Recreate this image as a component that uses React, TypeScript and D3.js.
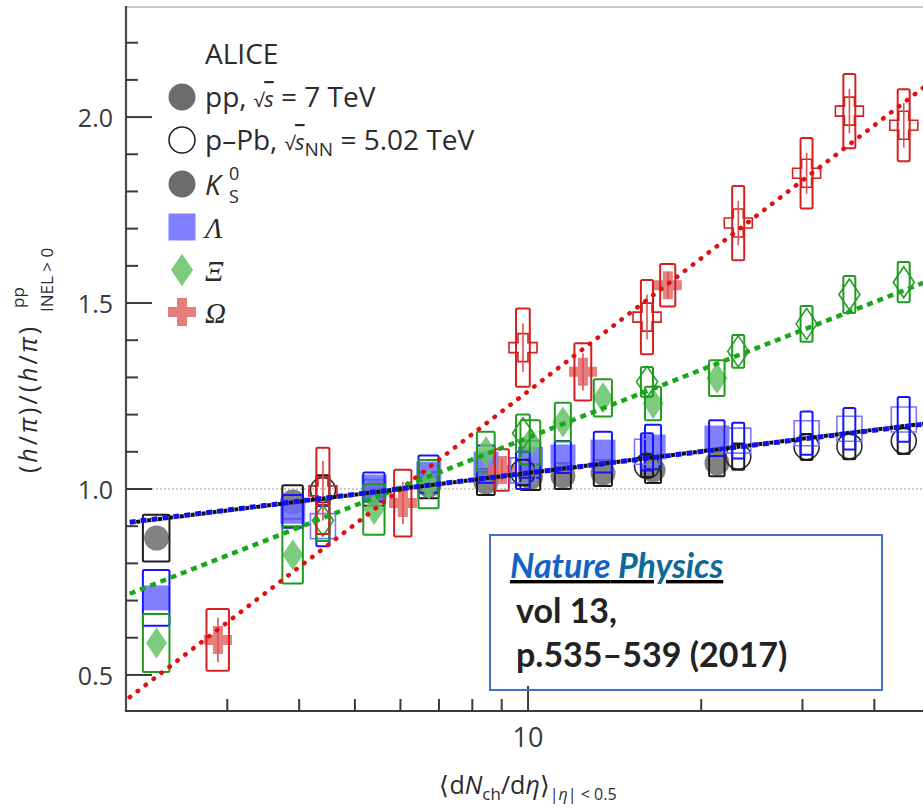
import React from 'react';
import * as d3 from 'd3';

// Charged-particle multiplicity classes, <dNch/deta> at |eta| < 0.5
const ppMult = [2.26, 3.9, 5.4, 6.72, 8.45, 10.1, 11.5, 13.5, 16.5, 21.3];
const ppMultErr = [0.12, 0.16, 0.23, 0.27, 0.3, 0.4, 0.37, 0.49, 0.53, 0.66];
const ppOmegaMult = [2.89, 6.06, 9.01, 12.46, 17.5];
const ppOmegaMultErr = [0.13, 0.21, 0.25, 0.42, 0.53];
const pPbMult = [4.4, 9.8, 16.1, 23.2, 30.5, 36.2, 45.0];
const pPbMultErr = [0.115, 0.27, 0.39, 0.56, 0.73, 0.87, 1.08];

// pp, sqrt(s) = 7 TeV: ratios (h/pi)/(h/pi)_INEL>0 with systematic and statistical errors
const ppK0S = [0.868, 0.965, 0.99, 1.01, 1.019, 1.032, 1.035, 1.043, 1.051, 1.07];
const ppK0SSys = [0.063, 0.045, 0.035, 0.035, 0.035, 0.035, 0.035, 0.035, 0.035, 0.036];
const ppLambda = [0.707, 0.94, 1.005, 1.04, 1.067, 1.08, 1.086, 1.099, 1.113, 1.137];
const ppLambdaSys = [0.075, 0.044, 0.039, 0.05, 0.05, 0.05, 0.043, 0.055, 0.06, 0.048];
const ppXi = [0.586, 0.823, 0.945, 1.013, 1.1, 1.125, 1.18, 1.245, 1.23, 1.298];
const ppXiSys = [0.078, 0.077, 0.068, 0.065, 0.054, 0.06, 0.052, 0.05, 0.045, 0.048];
const ppOmega = [0.594, 0.962, 1.051, 1.315, 1.548];
const ppOmegaSys = [0.083, 0.09, 0.056, 0.077, 0.057];
const ppOmegaStat = [0.06, 0.057, 0.03, 0.05, 0.035];

// p-Pb, sqrt(sNN) = 5.02 TeV
const pPbK0S = [0.997, 1.045, 1.062, 1.087, 1.113, 1.115, 1.129];
const pPbK0SSys = [0.04, 0.035, 0.03, 0.035, 0.035, 0.035, 0.035];
const pPbLambda = [0.9, 1.05, 1.1, 1.13, 1.15, 1.162, 1.187];
const pPbLambdaSys = [0.054, 0.05, 0.05, 0.048, 0.058, 0.056, 0.06];
const pPbXi = [0.915, 1.15, 1.288, 1.37, 1.444, 1.523, 1.556];
const pPbXiSys = [0.055, 0.05, 0.04, 0.044, 0.048, 0.05, 0.054];
const pPbOmega = [0.995, 1.38, 1.462, 1.715, 1.849, 2.016, 1.978];
const pPbOmegaSys = [0.116, 0.105, 0.1, 0.1, 0.095, 0.1, 0.097];
const pPbOmegaStat = [0.08, 0.065, 0.06, 0.06, 0.055, 0.06, 0.06];

// Fits of the form a + b*log10(dNch/deta)
const fitK0S = { a: 0.85, b: 0.193 };
const fitLambda = { a: 0.852, b: 0.191 };
const fitXi = { a: 0.532, b: 0.606 };
const fitOmega = { a: 0.0747, b: 1.188 };

const W = 923;
const H = 810;
const X0 = 126;
const Y0 = 711;
const YTOP = 7;

const xScale = d3.scaleLog().domain([2, 48.6]).range([X0, W]);
const yScale = d3.scaleLinear().domain([0.403, 2.296]).range([Y0, YTOP]);

type Pt = { x: number; xe: number; y: number; sys: number; stat: number };
const zip = (xs: number[], xes: number[], ys: number[], sys: number[], stat?: number[]): Pt[] =>
  xs.map((x, i) => ({ x, xe: xes[i], y: ys[i], sys: sys[i], stat: stat ? stat[i] : 0 }));

const shapes: Record<string, string> = {
  circle: 'M12.5,0A12.5,12.5 0 1,1 -12.5,0A12.5,12.5 0 1,1 12.5,0Z',
  square: 'M-12.5,-12.5H12.5V12.5H-12.5Z',
  diamond: 'M0,-15.5L10.5,0L0,15.5L-10.5,0Z',
  cross: 'M-5,-14H5V-5H14V5H5V14H-5V5H-14V-5H-5Z',
};

const species = [
  { shape: 'circle', fill: '#6c6c6c', box: '#1c1c1c', open: '#2a2a2a', stat: '#555' },
  { shape: 'square', fill: '#6a6aff', box: '#1414ff', open: '#7878ff', stat: '#3030ff' },
  { shape: 'diamond', fill: '#66c266', box: '#1f9c1f', open: '#23a023', stat: '#3a9a3a' },
  { shape: 'cross', fill: '#e26a6a', box: '#d42020', open: '#d42020', stat: '#e05050' },
];

const ppSets = [
  zip(ppMult, ppMultErr, ppK0S, ppK0SSys),
  zip(ppMult, ppMultErr, ppLambda, ppLambdaSys),
  zip(ppMult, ppMultErr, ppXi, ppXiSys),
  zip(ppOmegaMult, ppOmegaMultErr, ppOmega, ppOmegaSys, ppOmegaStat),
];
const pPbSets = [
  zip(pPbMult, pPbMultErr, pPbK0S, pPbK0SSys),
  zip(pPbMult, pPbMultErr, pPbLambda, pPbLambdaSys),
  zip(pPbMult, pPbMultErr, pPbXi, pPbXiSys),
  zip(pPbMult, pPbMultErr, pPbOmega, pPbOmegaSys, pPbOmegaStat),
];

const fitPath = (f: { a: number; b: number }) =>
  d3
    .line<number>()
    .x((d) => xScale(d))
    .y((d) => yScale(f.a + f.b * Math.log10(d)))([2.03, 48.6]) as string;

const TXT = '#2b2b2b';
const SANS = "'Open Sans', 'Noto Sans', sans-serif";
const SERIF = "'Liberation Serif', 'DejaVu Serif', serif";
const BOXFONT = "Lato, 'Open Sans', sans-serif";

function Points({ data, sp, filled }: { data: Pt[]; sp: (typeof species)[number]; filled: boolean }) {
  return (
    <g>
      {data.map((p, i) => {
        const cx = xScale(p.x);
        const cy = yScale(p.y);
        const bx0 = xScale(p.x - p.xe);
        const bx1 = xScale(p.x + p.xe);
        const by0 = yScale(p.y + p.sys);
        const by1 = yScale(p.y - p.sys);
        return (
          <g key={i}>
            {filled ? (
              <path d={shapes[sp.shape]} transform={`translate(${cx},${cy})`} fill={sp.fill} fillOpacity={0.85} />
            ) : (
              <path
                d={shapes[sp.shape]}
                transform={`translate(${cx},${cy})`}
                fill="none"
                stroke={sp.open}
                strokeWidth={1.6}
              />
            )}
            {p.stat > 0 && (
              <line x1={cx} x2={cx} y1={yScale(p.y + p.stat)} y2={yScale(p.y - p.stat)} stroke={sp.stat} strokeWidth={1.6} />
            )}
            <rect
              x={bx0}
              y={by0}
              width={bx1 - bx0}
              height={by1 - by0}
              rx={1.5}
              fill="none"
              stroke={sp.box}
              strokeWidth={2}
            />
          </g>
        );
      })}
    </g>
  );
}

export default function App() {
  const xTicks = xScale.ticks().filter((v) => v > 2.001);
  const yTicks = yScale.ticks(20);
  const isMajorY = (v: number) => Math.abs(v * 2 - Math.round(v * 2)) < 1e-6;
  const isMajorX = (v: number) => Math.abs(Math.log10(v) - Math.round(Math.log10(v))) < 1e-6;
  const fmt = d3.format('.1f');

  const legendRows = [97, 140, 184, 227, 270, 312];

  return (
    <svg
      width={W}
      height={H}
      viewBox={`0 0 ${W} ${H}`}
      style={{ position: 'absolute', left: 0, top: 0, display: 'block' }}
      fontFamily={SANS}
    >
      <rect width={W} height={H} fill="#fff" />

      {/* reference line at unity */}
      <line x1={152} x2={W} y1={yScale(1)} y2={yScale(1)} stroke="#9a9a9a" strokeWidth={1} strokeDasharray="2 2" />

      {/* data: pp filled, p-Pb open */}
      {species.map((sp, k) => (
        <Points key={'pp' + k} data={ppSets[k]} sp={sp} filled />
      ))}
      {species.map((sp, k) => (
        <Points key={'pPb' + k} data={pPbSets[k]} sp={sp} filled={false} />
      ))}

      {/* fits */}
      <path d={fitPath(fitOmega)} fill="none" stroke="#e01010" strokeWidth={4.5} strokeLinecap="round" strokeDasharray="0.5 9.5" />
      <path d={fitPath(fitXi)} fill="none" stroke="#16a816" strokeWidth={4.5} strokeDasharray="6 5" />
      <path d={fitPath(fitLambda)} fill="none" stroke="#1010e8" strokeWidth={5} strokeDasharray="6 5" />
      <path d={fitPath(fitK0S)} fill="none" stroke="#111" strokeWidth={4} strokeDasharray="4 7" strokeDashoffset={-6.5} />

      {/* frame and axes */}
      <line x1={X0} x2={W} y1={YTOP} y2={YTOP} stroke="#c8c8c8" strokeWidth={2} />
      <line x1={X0} x2={X0} y1={YTOP - 1} y2={Y0 + 1} stroke="#4a4a4a" strokeWidth={2.2} />
      <line x1={X0 - 1} x2={W} y1={Y0} y2={Y0} stroke="#3a3a3a" strokeWidth={2.2} />

      {yTicks.map((v) => (
        <line
          key={'yt' + v}
          x1={X0}
          x2={X0 + (isMajorY(v) ? 26 : 12)}
          y1={yScale(v)}
          y2={yScale(v)}
          stroke="#3a3a3a"
          strokeWidth={2}
        />
      ))}
      {yTicks.filter(isMajorY).map((v) => (
        <text key={'yl' + v} x={113} y={yScale(v) + 10} textAnchor="end" fontSize={25} fill="#3a3a3a">
          {fmt(v)}
        </text>
      ))}

      {xTicks.map((v) => (
        <line
          key={'xt' + v}
          x1={xScale(v)}
          x2={xScale(v)}
          y1={Y0}
          y2={Y0 - (isMajorX(v) ? 25 : 12)}
          stroke="#3a3a3a"
          strokeWidth={2}
        />
      ))}
      {xTicks.filter(isMajorX).map((v) => (
        <text key={'xl' + v} x={xScale(v)} y={747} textAnchor="middle" fontSize={27} fill="#3a3a3a">
          {d3.format('d')(v)}
        </text>
      ))}

      {/* axis titles */}
      <text x={528} y={794} textAnchor="middle" fontSize={25} fill={TXT}>
        ⟨d<tspan fontStyle="italic">N</tspan>
        <tspan fontSize={17} dy={6}>ch</tspan>
        <tspan dy={-6}>/d</tspan>
        <tspan fontStyle="italic">η</tspan>⟩
        <tspan fontSize={16} dy={6}>
          |<tspan fontStyle="italic">η</tspan>| &lt; 0.5
        </tspan>
      </text>

      <g transform="translate(37,473) rotate(-90)" fill={TXT}>
        <text x={0} y={0} fontSize={25} letterSpacing={3}>
          (<tspan fontStyle="italic">h</tspan>/<tspan fontStyle="italic">π</tspan>)/(<tspan fontStyle="italic">h</tspan>/
          <tspan fontStyle="italic">π</tspan>)
        </text>
        <text x={165} y={-13} fontSize={17}>
          pp
        </text>
        <text x={161} y={16} fontSize={17}>
          INEL &gt; 0
        </text>
      </g>

      {/* legend */}
      <g fill={TXT}>
        <text x={205} y={64} fontSize={28}>
          ALICE
        </text>
        <path d={shapes.circle} transform={`translate(182,${legendRows[0]}) scale(1.08)`} fill="#6c6c6c" />
        <text x={205} y={legendRows[0] + 10} fontSize={28}>
          pp, <tspan fontSize={19}>√</tspan>
          <tspan fontStyle="italic" fontSize={22} textDecoration="overline">s</tspan> = 7 TeV
        </text>
        <path
          d={shapes.circle}
          transform={`translate(182,${legendRows[1]}) scale(1.04)`}
          fill="none"
          stroke="#222"
          strokeWidth={1.5}
        />
        <text x={205} y={legendRows[1] + 10} fontSize={28}>
          p–Pb, <tspan fontSize={19}>√</tspan>
          <tspan fontStyle="italic" fontSize={22} textDecoration="overline">s</tspan>
          <tspan fontSize={19} dy={6}>NN</tspan>
          <tspan dy={-6}> = 5.02 TeV</tspan>
        </text>
        <path d={shapes.circle} transform={`translate(182,${legendRows[2]}) scale(1.08)`} fill="#6c6c6c" />
        <text x={205} y={legendRows[2] + 11} fontSize={28} fontStyle="italic">
          K
        </text>
        <text x={229} y={180} fontSize={18}>
          0
        </text>
        <text x={229} y={203} fontSize={18}>
          S
        </text>
        <path d={shapes.square} transform={`translate(182,${legendRows[3]}) scale(1.08)`} fill="#7f7fff" />
        <text x={205} y={legendRows[3] + 11} fontSize={29} fontStyle="italic" fontFamily={SERIF}>
          Λ
        </text>
        <path d={shapes.diamond} transform={`translate(182,${legendRows[4]}) scale(1.05)`} fill="#7bcb7b" />
        <text x={205} y={legendRows[4] + 11} fontSize={29} fontStyle="italic" fontFamily={SERIF}>
          Ξ
        </text>
        <path d={shapes.cross} transform={`translate(182,${legendRows[5]})`} fill="#e67c7c" />
        <text x={205} y={legendRows[5] + 11} fontSize={29} fontStyle="italic" fontFamily={SERIF}>
          Ω
        </text>
      </g>

      {/* publication reference box */}
      <rect x={490} y={535} width={392} height={155} fill="none" stroke="#4472c4" strokeWidth={2} />
      <text x={510} y={578} fontSize={34} fontWeight={700} fontStyle="italic" fontFamily={BOXFONT} textDecoration="underline">
        <tspan fill="#1463c4">Nature</tspan>
        <tspan fill="#0d6a98"> Physics</tspan>
      </text>
      <text x={516} y={623} fontSize={34} fontWeight={700} fill="#222" fontFamily={BOXFONT}>
        vol 13,
      </text>
      <text x={516} y={667} fontSize={34} fontWeight={700} fill="#222" fontFamily={BOXFONT}>
        p.535–539 (2017)
      </text>
    </svg>
  );
}
